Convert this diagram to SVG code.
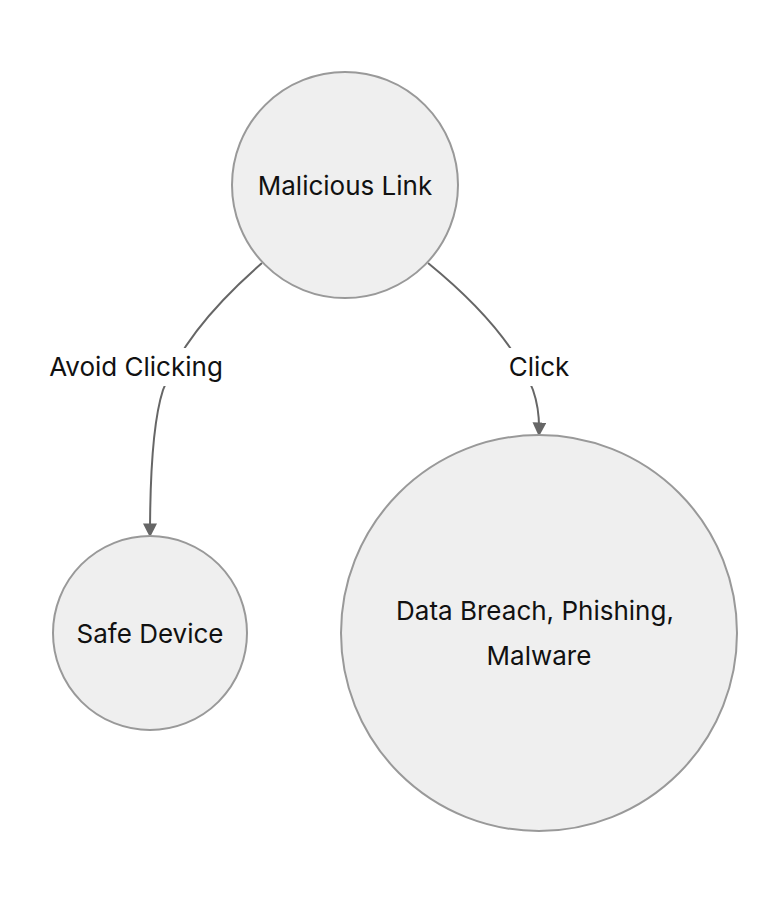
<svg xmlns="http://www.w3.org/2000/svg" width="774" height="904" viewBox="0 0 774 904">
<style>
.n{fill:#efefef;stroke:#999;stroke-width:2}
.t{font-family:Inter,"Liberation Sans",sans-serif;font-size:26px;fill:#111;text-anchor:middle}
.e{fill:none;stroke:#666;stroke-width:2}
</style>
<defs><marker id="a" viewBox="0 0 10 10" refX="9" refY="5" markerWidth="7" markerHeight="7" orient="auto" markerUnits="userSpaceOnUse" ><path d="M0,0L10,5L0,10z" fill="#666"/></marker>
<marker id="b" viewBox="0 0 10 10" refX="9" refY="5" markerWidth="14" markerHeight="14" orient="auto" markerUnits="userSpaceOnUse"><path d="M0,0L10,5L0,10z" fill="#666"/></marker></defs>
<rect width="774" height="904" fill="#fff"/>
<g id="edges">
<path class="e" d="M262,263 Q185,330 163,390 Q150,430 150,536" marker-end="url(#b)"/>
<path class="e" d="M428,263 Q510,330 533,390 Q540,410 539,435" marker-end="url(#b)"/>
<rect x="36" y="348" width="200" height="38" fill="#fff"/>
<text class="t" x="136" y="376">Avoid Clicking</text>
<rect x="502" y="348" width="74" height="38" fill="#fff"/>
<text class="t" x="539" y="376">Click</text>
</g>
<g id="malicious"><circle class="n" cx="345" cy="185" r="113"/><text class="t" x="345" y="195">Malicious Link</text></g>
<g id="safe"><circle class="n" cx="150" cy="633" r="97"/><text class="t" x="150" y="643">Safe Device</text></g>
<g id="breach"><circle class="n" cx="539" cy="633" r="198"/><text class="t" x="535" y="620">Data Breach, Phishing,</text><text class="t" x="539" y="665">Malware</text></g>
</svg>
